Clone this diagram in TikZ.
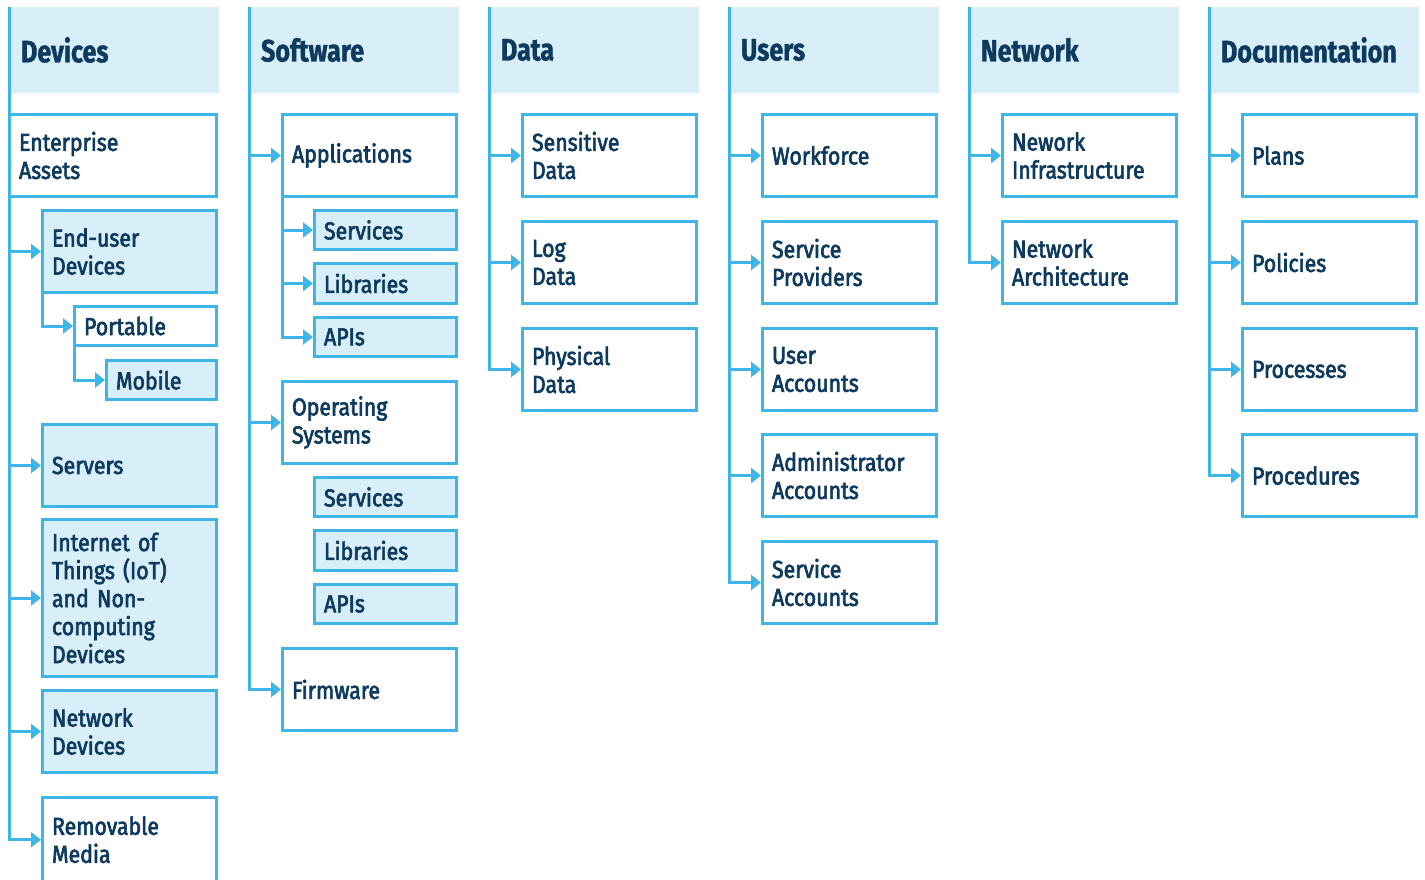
\documentclass[tikz,border=0pt]{standalone}
\usepackage{fontspec}
\setmainfont{Fira Sans}[FakeStretch=0.87, FakeBold=2.6]
\newfontfamily\hdfont{Fira Sans Bold}[FakeStretch=0.81, FakeBold=1.2]
\usetikzlibrary{arrows.meta}
\definecolor{lb}{HTML}{3DB5E6}
\definecolor{lf}{HTML}{D8EFF9}
\definecolor{tx}{HTML}{0D3A5E}
\tikzset{
  bx/.style={draw=lb, line width=3pt, rectangle, outer sep=0pt, inner ysep=0pt,
    inner xsep=9.5pt, anchor=north west, align=left, text=tx,
    font=\fontsize{24.5}{28}\selectfont},
  hd/.style={fill=lf, draw=none, rectangle, outer sep=0pt, inner ysep=0pt,
    inner xsep=10pt, anchor=north west, align=left, text=tx,
    font=\fontsize{31}{36}\hdfont},
  conn/.style={draw=lb, line width=3pt},
  arr/.style={conn, shorten >=1.5pt, -{Triangle[length=10pt,width=15pt]}},
}
\newcommand\mybox[7]{%
  \pgfmathsetmacro\bw{#4-#2}\pgfmathsetmacro\bh{#5-#3}\pgfmathsetmacro\tw{#4-#2-19}%
  \node[bx, fill=#6, minimum width=\bw pt, minimum height=\bh pt, text width=\tw pt] (#1) at (#2,#3) {#7};}
\newcommand\myhead[3]{%
  \pgfmathsetmacro\hx{#2+1.5}%
  \node[hd, minimum width=207.5pt, minimum height=86pt, text width=187.5pt] (#1) at (\hx,7) {#3};}
\begin{document}
\begin{tikzpicture}[x=1pt,y=-1pt]
\useasboundingbox (0,0) rectangle (1425,880);
\fill[white] (0,0) rectangle (1425,880);
% ---------------- Devices
\myhead{h1}{9.5}{Devices}
\coordinate (m1) at (9.5,7);
\mybox{ea}{9.5}{114.5}{216.5}{196.5}{white}{Enterprise\\Assets}
\mybox{eu}{42.5}{210.5}{216.5}{292.5}{lf}{End-user\\Devices}
\mybox{port}{74.5}{306.5}{216.5}{345.5}{white}{Portable}
\mybox{mob}{106.5}{360.5}{216.5}{399.5}{lf}{Mobile}
\mybox{serv}{42.5}{424.5}{216.5}{506.5}{lf}{Servers}
\mybox{iot}{42.5}{519.5}{216.5}{676.5}{lf}{Internet of\\Things (IoT)\\and Non-\\computing\\Devices}
\mybox{nd}{42.5}{690.5}{216.5}{772.5}{lf}{Network\\Devices}
\mybox{rm}{42.5}{797.5}{216.5}{882}{white}{Removable\\Media}
\draw[arr] (m1) |- (rm.west);
\draw[arr] (m1 |- eu.west) -- (eu.west);
\draw[arr] (m1 |- serv.west) -- (serv.west);
\draw[arr] (m1 |- iot.west) -- (iot.west);
\draw[arr] (m1 |- nd.west) -- (nd.west);
\draw[arr] (eu.south west) |- (port.west);
\draw[arr] (port.south west) |- (mob.west);
% ---------------- Software
\myhead{h2}{249.5}{Software}
\coordinate (m2) at (249.5,7);
\mybox{app}{282.5}{114.5}{456.5}{196.5}{white}{Applications}
\mybox{sa}{314.5}{210.5}{456.5}{249.5}{lf}{Services}
\mybox{la}{314.5}{263.5}{456.5}{303.5}{lf}{Libraries}
\mybox{aa}{314.5}{317.5}{456.5}{356.5}{lf}{APIs}
\mybox{os}{282.5}{381.5}{456.5}{463.5}{white}{Operating\\Systems}
\mybox{so}{314.5}{477.5}{456.5}{516.5}{lf}{Services}
\mybox{lo}{314.5}{530.5}{456.5}{570.5}{lf}{Libraries}
\mybox{ao}{314.5}{584.5}{456.5}{623.5}{lf}{APIs}
\mybox{fw}{282.5}{648.5}{456.5}{730.5}{white}{Firmware}
\draw[arr] (m2) |- (fw.west);
\draw[arr] (m2 |- app.west) -- (app.west);
\draw[arr] (m2 |- os.west) -- (os.west);
\draw[arr] (app.south west) |- (aa.west);
\draw[arr] (app.south west |- sa.west) -- (sa.west);
\draw[arr] (app.south west |- la.west) -- (la.west);
% ---------------- Data
\myhead{h3}{489.5}{Data}
\coordinate (m3) at (489.5,7);
\mybox{sd}{522.5}{114.5}{696.5}{196.5}{white}{Sensitive\\Data}
\mybox{ld}{522.5}{221.5}{696.5}{303.5}{white}{Log\\Data}
\mybox{pd}{522.5}{328.5}{696.5}{410.5}{white}{Physical\\Data}
\draw[arr] (m3) |- (pd.west);
\draw[arr] (m3 |- sd.west) -- (sd.west);
\draw[arr] (m3 |- ld.west) -- (ld.west);
% ---------------- Users
\myhead{h4}{729.5}{Users}
\coordinate (m4) at (729.5,7);
\mybox{wf}{762.5}{114.5}{936.5}{196.5}{white}{Workforce}
\mybox{sp}{762.5}{221.5}{936.5}{303.5}{white}{Service\\Providers}
\mybox{ua}{762.5}{328.5}{936.5}{410.5}{white}{User\\Accounts}
\mybox{ad}{762.5}{434.5}{936.5}{516.5}{white}{Administrator\\Accounts}
\mybox{sv}{762.5}{541.5}{936.5}{623.5}{white}{Service\\Accounts}
\draw[arr] (m4) |- (sv.west);
\draw[arr] (m4 |- wf.west) -- (wf.west);
\draw[arr] (m4 |- sp.west) -- (sp.west);
\draw[arr] (m4 |- ua.west) -- (ua.west);
\draw[arr] (m4 |- ad.west) -- (ad.west);
% ---------------- Network
\myhead{h5}{969.5}{Network}
\coordinate (m5) at (969.5,7);
\mybox{ni}{1002.5}{114.5}{1176.5}{196.5}{white}{Nework\\Infrastructure}
\mybox{na}{1002.5}{221.5}{1176.5}{303.5}{white}{Network\\Architecture}
\draw[arr] (m5) |- (na.west);
\draw[arr] (m5 |- ni.west) -- (ni.west);
% ---------------- Documentation
\myhead{h6}{1209.5}{Documentation}
\coordinate (m6) at (1209.5,7);
\mybox{pl}{1242.5}{114.5}{1416.5}{196.5}{white}{Plans}
\mybox{po}{1242.5}{221.5}{1416.5}{303.5}{white}{Policies}
\mybox{pr}{1242.5}{328.5}{1416.5}{410.5}{white}{Processes}
\mybox{pc}{1242.5}{434.5}{1416.5}{516.5}{white}{Procedures}
\draw[arr] (m6) |- (pc.west);
\draw[arr] (m6 |- pl.west) -- (pl.west);
\draw[arr] (m6 |- po.west) -- (po.west);
\draw[arr] (m6 |- pr.west) -- (pr.west);
\end{tikzpicture}
\end{document}
